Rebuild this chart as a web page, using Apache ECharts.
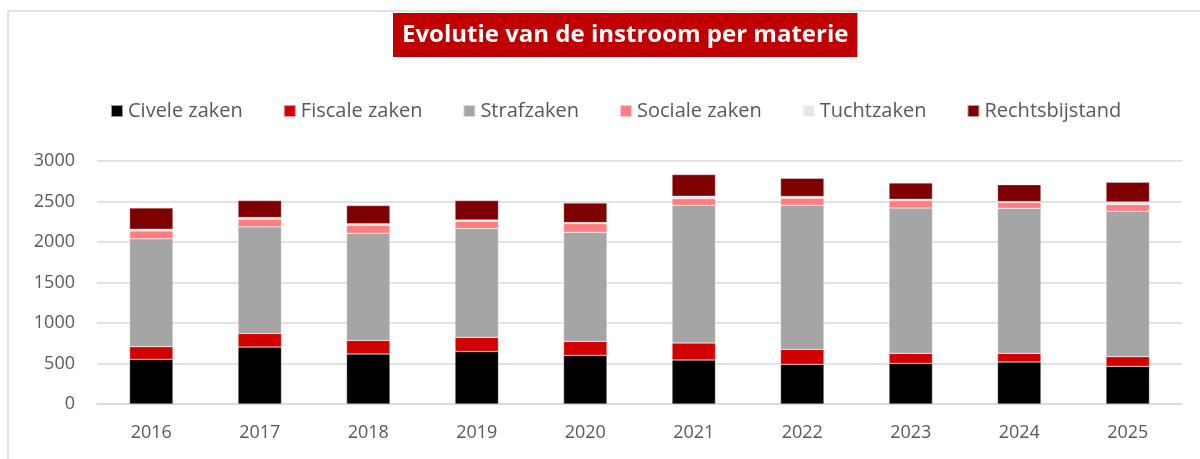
<!DOCTYPE html>
<html>
<head>
<meta charset="utf-8">
<script src="https://cdn.jsdelivr.net/npm/echarts@6/dist/echarts.min.js"></script>
<style>
  html, body { margin: 0; padding: 0; background: #fff; }
  #chart { width: 1200px; height: 459px; }
</style>
</head>
<body>
<div id="chart"></div>
<script>
// jaren
const years = ['2016', '2017', '2018', '2019', '2020', '2021', '2022', '2023', '2024', '2025'];

// instroom per materie
const civeleZaken = [551, 703, 617, 649, 600, 543, 489, 501, 518, 464];
const fiscaleZaken = [156, 168, 168, 173, 173, 209, 185, 124, 107, 120];
const strafZaken = [1332, 1316, 1323, 1344, 1348, 1702, 1780, 1796, 1792, 1796];
const socialeZaken = [98, 94, 99, 90, 107, 82, 86, 90, 70, 82];
const tuchtZaken = [21, 21, 17, 17, 12, 29, 21, 17, 12, 33];
const rechtsbijstand = [263, 209, 226, 238, 242, 267, 226, 201, 209, 242];

const seriesDefs = [
    { name: 'Civele zaken', data: civeleZaken, color: '#000000' },
    { name: 'Fiscale zaken', data: fiscaleZaken, color: '#D20000' },
    { name: 'Strafzaken', data: strafZaken, color: '#A5A5A5' },
    { name: 'Sociale zaken', data: socialeZaken, color: '#FF7C80' },
    { name: 'Tuchtzaken', data: tuchtZaken, color: '#E7E6E6' },
    { name: 'Rechtsbijstand', data: rechtsbijstand, color: '#7F0000' },
];

const myChart = echarts.init(document.getElementById('chart'));
const font = '"Open Sans", sans-serif';

const option = {
    animation: false,
    backgroundColor: '#fff',
    textStyle: { fontFamily: font },
    graphic: [
        {
            type: 'rect',
            shape: { x: 8, y: 11, width: 1200, height: 470 },
            style: { fill: 'none', stroke: '#d9d9d9', lineWidth: 1.5 },
            silent: true,
        },
    ],
    title: {
        text: 'Evolutie van de instroom per materie',
        left: 393,
        top: 13,
        backgroundColor: '#C00000',
        padding: [7, 9, 7, 9],
        textStyle: {
            color: '#ffffff',
            fontSize: 24,
            fontWeight: 'bold',
            fontFamily: font,
            lineHeight: 30,
        },
    },
    legend: {
        left: 105,
        top: 96,
        itemWidth: 12,
        itemHeight: 12,
        itemGap: 40,
        icon: 'rect',
        selectedMode: false,
        textStyle: { color: '#595959', fontSize: 20, fontFamily: font },
        data: seriesDefs.map(s => s.name),
    },
    grid: {
        left: 97,
        right: 18,
        top: 161,
        bottom: 55,
        containLabel: false,
    },
    xAxis: {
        type: 'category',
        data: years,
        axisLine: { lineStyle: { color: '#d9d9d9', width: 1.5 } },
        axisTick: { show: false },
        axisLabel: { color: '#595959', fontSize: 18, margin: 20 },
    },
    yAxis: {
        type: 'value',
        min: 0,
        max: 3000,
        interval: 500,
        axisLine: { show: false },
        axisTick: { show: false },
        axisLabel: { color: '#595959', fontSize: 18, margin: 22, formatter: v => String(v) },
        splitLine: { lineStyle: { color: '#d9d9d9', width: 1.5 } },
    },
    series: seriesDefs.map(s => ({
        name: s.name,
        type: 'bar',
        stack: 'totaal',
        barWidth: '40%',
        data: s.data,
        itemStyle: {
            color: s.color,
            borderColor: 'rgba(255,255,255,0.6)',
            borderWidth: 0.5,
        },
    })),
};

myChart.setOption(option);
</script>
</body>
</html>
